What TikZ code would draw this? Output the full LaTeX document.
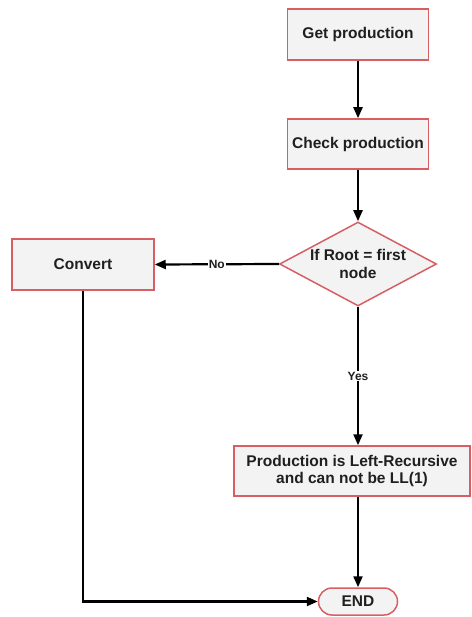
\documentclass[tikz,border=0pt]{standalone}
\usepackage{fontspec}
\setmainfont{Liberation Sans}
\usetikzlibrary{shapes.geometric,shapes.misc,arrows.meta}
\definecolor{boxfill}{HTML}{F3F3F4}
\definecolor{boxedge}{HTML}{D65F64}
\tikzset{
  x=1pt, y=-1pt,
  every node/.style={font=\fontsize{15.5}{17.5}\selectfont\bfseries, text=black!88},
  procbox/.style={draw=boxedge, fill=boxfill, line width=1.5pt, rectangle, align=center, inner sep=0pt},
  decision/.style={draw=boxedge, fill=boxfill, line width=1.5pt, diamond, aspect=1.87, align=center, inner sep=0pt, minimum width=157pt, minimum height=84pt},
  terminal/.style={draw=boxedge, fill=boxfill, line width=1.5pt, rounded rectangle, minimum width=79pt, minimum height=27pt, inner sep=0pt},
  flow/.style={line width=2.2pt, -{Triangle[length=11pt,width=9pt]}},
  lbl/.style={fill=white, inner sep=1pt, font=\fontsize{12}{14}\selectfont\bfseries}
}
\begin{document}
\begin{tikzpicture}
\useasboundingbox (0,0) rectangle (471,617);
\fill[white] (0,0) rectangle (471,617);
\node[procbox, minimum width=141pt, minimum height=51pt] (get) at (358,34.5) {Get production};
\node[procbox, minimum width=141pt, minimum height=50pt] (check) at (358,144) {Check production};
\node[decision] (root) at (358,264) {If Root = first\\node};
\node[procbox, minimum width=142pt, minimum height=51pt] (conv) at (83,264.5) {Convert};
\node[procbox, minimum width=236pt, minimum height=50pt] (lr) at (352,471) {Production is Left-Recursive\\and can not be LL(1)};
\node[terminal] (end) at (358,601.5) {END};
\coordinate (corner) at (83,601.5);

\draw[flow] (get) -- (check);
\draw[flow] (check.south) -- (root.north);
\draw[flow] (root.west) -- node[lbl, pos=0.5] (no) {No} (conv.east);
\draw[flow] (root.south) -- node[lbl, pos=0.5] (yes) {Yes} (root.south |- lr.north);
\draw[flow] (lr.south -| end.north) -- (end.north);
\draw[flow] (conv.south) -- (corner) -- (end.west);
\end{tikzpicture}
\end{document}
